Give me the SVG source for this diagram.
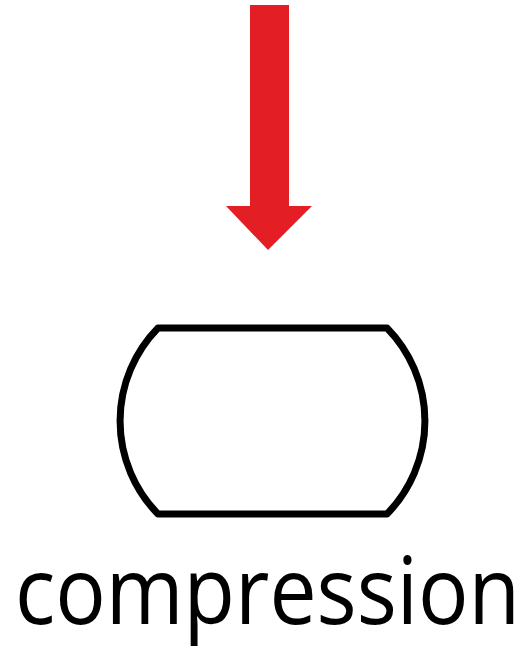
<svg xmlns="http://www.w3.org/2000/svg" width="530" height="653" viewBox="0 0 530 653">
<style>
.arrow{fill:#e31e24;stroke:none}
.shape{fill:#fff;stroke:#000;stroke-width:7;stroke-linejoin:round}
.label{font-family:"Open Sans","DejaVu Sans",sans-serif;font-size:94px;font-weight:500;fill:#000}
</style>
<rect width="530" height="653" fill="#fff"/>
<g id="connectors">
<path class="arrow" d="M250 5 H289 V206 H312 L268 250 L226 206 H250 Z"/>
</g>
<g id="node-compression">
<path class="shape" d="M158 328 H387 A133 133 0 0 1 387 514 H158 A133 133 0 0 1 158 328 Z"/>
<text class="label" x="15" y="624" textLength="505" lengthAdjust="spacingAndGlyphs">compression</text>
</g>
</svg>
